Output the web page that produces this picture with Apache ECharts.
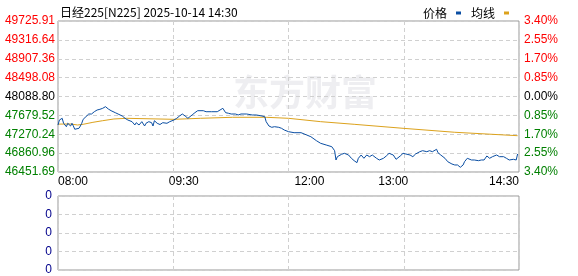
<!DOCTYPE html>
<html><head><meta charset="utf-8">
<script src="https://cdn.jsdelivr.net/npm/echarts@6/dist/echarts.min.js"></script>
<style>html,body{margin:0;padding:0;background:#fff}#c{width:578px;height:276px}</style>
</head><body><div id="c"></div>
<script>
// ---- data ----
const titleText = '日经225[N225] 2025-10-14 14:30';
const seriesNames = ['价格', '均线'];
// trading minutes since 08:00 (morning 150 min + afternoon 180 min = 330)
const priceT = [0,1,3,4,5,6,7,9,10,11,12,13,15,16,17,18,20,22,24,26,28,30,32,34,36,38,41,43,46,48,50,53,55,56,58,60,61,62,63,65,67,68,69,71,72,73,75,78,80,83,85,87,89,91,93,96,98,100,104,106,110,114,116,118,120,122,124,127,129,131,135,139,142,146,148,149,151,153,155,158,160,162,165,169,174,178,181,185,188,192,196,198,199,200,203,205,208,210,212,214,215,217,219,221,223,225,228,230,233,235,237,240,242,245,247,249,252,254,256,259,261,264,266,268,271,272,274,277,279,282,284,286,288,290,291,293,296,298,301,303,305,307,309,311,314,316,319,321,323,326,328,329];
const price = [47471,47579,47616,47508,47486,47434,47508,47449,47508,47449,47378,47347,47399,47449,47508,47594,47651,47709,47709,47759,47796,47811,47833,47868,47818,47781,47738,47709,47666,47616,47579,47543,47471,47521,47471,47543,47508,47449,47508,47543,47521,47449,47564,47508,47535,47481,47521,47508,47543,47579,47616,47666,47709,47666,47616,47688,47738,47781,47781,47759,47759,47759,47796,47833,47738,47725,47709,47709,47688,47709,47709,47688,47688,47666,47651,47543,47449,47421,47434,47421,47399,47362,47326,47304,47304,47254,47217,47130,47074,47037,47000,46914,46712,46784,46836,46857,46820,46749,46697,46654,46749,46820,46749,46820,46784,46820,46749,46712,46749,46799,46857,46820,46727,46799,46857,46842,46820,46784,46842,46892,46914,46892,46914,46892,46944,46870,46820,46749,46675,46625,46604,46604,46554,46604,46675,46749,46712,46712,46697,46712,46712,46799,46749,46784,46820,46784,46784,46749,46712,46727,46712,46842];
const avgT = [0,9,14,18,25,32,40,49,83,102,125,149,165,188,212,247,284,329];
const avg = [47490,47493,47471,47486,47529,47564,47601,47616,47594,47616,47638,47638,47616,47543,47486,47399,47313,47239];
// tick labels
const xTickValues = [0,90,180,240,330];
const xTickLabels = ['08:00','09:30','12:00','13:00','14:30'];
const priceTickLabels = ['46451.69','46860.96','47270.24','47679.52','48088.80','48498.08','48907.36','49316.64','49725.91'];
const pctTickLabels = ['3.40%','2.55%','1.70%','0.85%','0.00%','0.85%','1.70%','2.55%','3.40%'];
const volTickLabels = ['0','0','0','0','0'];
const priceAxisMin = 46451.69, priceAxisMax = 49725.91;

// ---- chart ----
const step = (priceAxisMax - priceAxisMin) / (priceTickLabels.length - 1);
const toIdx = p => (p - priceAxisMin) / step;
const priceData = priceT.map((t, i) => [t, toIdx(price[i])]);
const avgData = avgT.map((t, i) => [t, toIdx(avg[i])]);
const mid = (priceTickLabels.length - 1) / 2;
const upDownColor = v => { const k = Math.round(v); return k > mid ? '#ff0000' : (k < mid ? '#008000' : '#000000'); };
const font = 'Liberation Sans, Arial, sans-serif';
const gridLine = { show: true, lineStyle: { color: '#d0d0d0', type: [4, 3], width: 1 } };

const chart = echarts.init(document.getElementById('c'), null, { renderer: 'canvas' });
chart.setOption({
  animation: false,
  backgroundColor: '#ffffff',
  title: { text: titleText, left: 55, top: 1, textStyle: { fontSize: 12, fontWeight: 'normal', color: '#000', fontFamily: 'Noto Sans CJK SC, sans-serif' } },
  legend: {
    data: seriesNames.map(n => ({ name: n, icon: 'rect' })), align: 'right', right: 64, top: 2,
    itemWidth: 5, itemHeight: 3, itemGap: 10,
    textStyle: { fontSize: 12, color: '#000', fontFamily: 'Noto Sans CJK SC, sans-serif', padding: [0, 4, 0, 0] }
  },
  graphic: [{ type: 'text', left: 233, top: 74, z: 0, silent: true,
    style: { text: '东方财富', fontSize: 36, fontWeight: 'bold', fill: 'rgba(205,205,215,0.35)', fontFamily: 'Noto Sans CJK SC, sans-serif' } }],
  grid: [
    { left: 58, right: 59, top: 21, height: 151, show: true, borderColor: '#999', borderWidth: 1, backgroundColor: 'transparent' },
    { left: 58, right: 59, top: 196, height: 74, show: true, borderColor: '#999', borderWidth: 1 }
  ],
  xAxis: [
    { type: 'value', gridIndex: 0, min: 0, max: 330, interval: 82.5, axisLine: { show: false }, axisTick: { show: false }, axisLabel: { show: false }, splitLine: gridLine },
    { type: 'value', gridIndex: 0, min: 0, max: 330, position: 'bottom', axisLine: { show: false }, axisTick: { show: false }, splitLine: { show: false },
      axisLabel: { customValues: xTickValues, formatter: v => xTickLabels[xTickValues.indexOf(v)], alignMinLabel: 'left', alignMaxLabel: 'right',
        fontSize: 12, color: '#000', margin: 4, fontFamily: font, showMinLabel: true, showMaxLabel: true, hideOverlap: false } },
    { type: 'value', gridIndex: 1, min: 0, max: 330, interval: 82.5, axisLine: { show: false }, axisTick: { show: false }, axisLabel: { show: false }, splitLine: gridLine }
  ],
  yAxis: [
    { type: 'value', gridIndex: 0, min: 0, max: priceTickLabels.length - 1, interval: 1, position: 'left',
      axisLine: { show: false }, axisTick: { show: false }, splitLine: gridLine,
      axisLabel: { formatter: v => priceTickLabels[Math.round(v)], color: upDownColor, fontSize: 12, margin: 3, fontFamily: font } },
    { type: 'value', gridIndex: 0, min: 0, max: pctTickLabels.length - 1, interval: 1, position: 'right',
      axisLine: { show: false }, axisTick: { show: false }, splitLine: { show: false },
      axisLabel: { formatter: v => pctTickLabels[Math.round(v)], color: upDownColor, fontSize: 12, margin: 5, fontFamily: font } },
    { type: 'value', gridIndex: 1, min: 0, max: volTickLabels.length - 1, interval: 1, position: 'left',
      axisLine: { show: false }, axisTick: { show: false }, splitLine: gridLine,
      axisLabel: { formatter: v => volTickLabels[Math.round(v)], color: '#00008b', fontSize: 12, margin: 6, fontFamily: font } }
  ],
  series: [
    { name: seriesNames[0], type: 'line', xAxisIndex: 0, yAxisIndex: 0, data: priceData, showSymbol: false, symbol: 'none',
      lineStyle: { color: '#0a4ea3', width: 1 }, itemStyle: { color: '#0a4ea3' }, z: 3 },
    { name: seriesNames[1], type: 'line', xAxisIndex: 0, yAxisIndex: 0, data: avgData, showSymbol: false, symbol: 'none',
      lineStyle: { color: '#dca21c', width: 1 }, itemStyle: { color: '#dca21c' }, z: 2 }
  ]
});
</script></body></html>
